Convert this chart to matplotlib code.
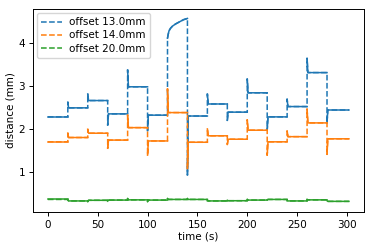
import numpy as np
import matplotlib
matplotlib.use("Agg")
import matplotlib.pyplot as plt

# segment start times (s), recording ends at t_end
starts = [0, 20, 40, 60, 80, 100, 120, 140, 160, 180, 200, 220, 240, 260, 280]
t_end = 302

labels = ["offset 13.0mm", "offset 14.0mm", "offset 20.0mm"]

# settled level of each segment and the extreme value right after the step
blue_level = [2.29, 2.50, 2.67, 2.36, 2.99, 2.33, None, 2.31, 2.59, 2.40, 2.85, 2.29, 2.53, 3.32, 2.45]
blue_peak = [None, 2.63, 2.82, 2.10, 3.38, 1.97, 4.12, 0.94, 2.82, 2.21, 3.17, 1.98, 2.70, 3.65, 2.15]
# the 120-140 s blue segment drifts instead of settling
blue_curve_t = [120.6, 121.5, 123, 125, 128, 132, 136, 140]
blue_curve_v = [4.20, 4.29, 4.35, 4.40, 4.45, 4.50, 4.55, 4.58]

orange_level = [1.71, 1.81, 1.91, 1.75, 2.04, 1.73, 2.39, 1.70, 1.85, 1.77, 1.98, 1.71, 1.83, 2.15, 1.78]
orange_peak = [None, 1.91, 2.00, 1.56, 2.33, 1.40, 2.94, 1.09, 2.01, 1.65, 2.22, 1.40, 1.96, 2.47, 1.42]

green_level = [0.37, 0.335, 0.35, 0.355, 0.36, 0.355, 0.37, 0.37, 0.335, 0.34, 0.355, 0.37, 0.335, 0.36, 0.325]
green_peak = [None, 0.36, 0.32, 0.33, 0.39, 0.32, 0.39, 0.39, 0.34, 0.35, 0.37, 0.36, 0.34, 0.37, 0.34]


def build(level, peak, curve=None):
    # returns the full path and the list of settled pieces
    full_t, full_v, pieces = [], [], []
    for i, s in enumerate(starts):
        e = starts[i + 1] if i + 1 < len(starts) else t_end
        pt, pv = [], []
        if peak[i] is not None:
            pt.append(s); pv.append(peak[i])
        if level[i] is None and curve is not None:
            pt += curve[0]; pv += curve[1]
        else:
            pt += [s + 0.8 if peak[i] is not None else s, e]
            pv += [level[i], level[i]]
        full_t += pt; full_v += pv
        pieces.append((pt, pv))
    return full_t, full_v, pieces


series = [
    build(blue_level, blue_peak, (blue_curve_t, blue_curve_v)),
    build(orange_level, orange_peak),
    build(green_level, green_peak),
]
colors = ["C0", "C1", "C2"]

fig = plt.figure(figsize=(3.74, 2.49), dpi=100)
ax = fig.add_axes([0.088, 0.149, 0.885, 0.815])

for (ft, fv, pieces), c, lab in zip(series, colors, labels):
    ax.plot(ft, fv, "--", color=c, lw=1.1, label=lab)
    for pt, pv in pieces:
        ax.plot(pt, pv, "-", color=c, lw=1.1)

ax.set_xlim(-15, 317)
ax.set_ylim(0.08, 4.80)
ax.set_xticks([0, 50, 100, 150, 200, 250, 300])
ax.set_yticks([1, 2, 3, 4])
ax.tick_params(labelsize=7.5, length=3, width=0.7, pad=2.5)
for sp in ax.spines.values():
    sp.set_linewidth(0.7)
ax.set_xlabel("time (s)", fontsize=7.5, labelpad=1.5)
ax.set_ylabel("distance (mm)", fontsize=7.5, labelpad=2)
ax.legend(loc="upper left", fontsize=7.5, handlelength=2.0, borderpad=0.4,
          labelspacing=0.3, handletextpad=0.7, borderaxespad=0.4)

fig.savefig("out.png", dpi=100)
